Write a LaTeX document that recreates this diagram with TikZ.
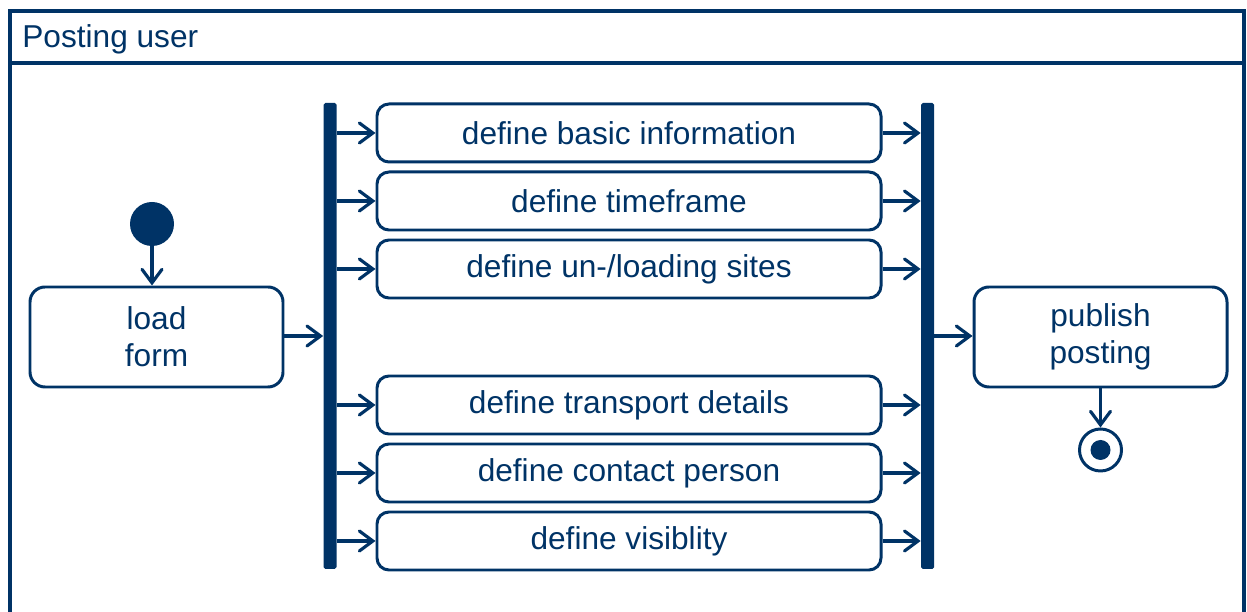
\documentclass[tikz,border=0pt]{standalone}
\usepackage{fontspec}
\setmainfont{Liberation Sans}
\usetikzlibrary{arrows.meta,positioning,calc}
\definecolor{umlblue}{RGB}{0,51,102}
\tikzstyle{action} = [draw=umlblue, line width=1.7pt, rounded corners=0.24cm, minimum width=10.08cm, minimum height=1.16cm, text=umlblue, font=\fontsize{18}{21}\selectfont]
\tikzstyle{bigaction} = [action, rounded corners=0.3cm, minimum width=5.06cm, minimum height=2cm, align=center]
\tikzstyle{syncbar} = [fill=umlblue, rounded corners=1pt, minimum width=0.26cm, minimum height=9.32cm, inner sep=0pt]
\tikzstyle{arrow} = [line width=1.8pt, draw=umlblue, -{Straight Barb[length=0.27cm, width=0.4cm, line cap=round]}]

\begin{document}
\begin{tikzpicture}
\useasboundingbox (0,0) rectangle (24.94,12.24);
% swimlane frame
\draw [umlblue, line width=2.2pt] (0.2,-0.4) -- (0.2,12.02) -- (24.88,12.02) -- (24.88,-0.4);
\draw [umlblue, line width=2.2pt] (0.2,10.98) -- (24.88,10.98);
\node (lane) [anchor=base west, inner sep=0pt, text=umlblue, font=\fontsize{18}{21}\selectfont] at (0.44,11.28) {Posting user};
% start and load
\node (start) [circle, fill=umlblue, minimum size=0.88cm, inner sep=0pt] at (3.04,7.76) {};
\node (load) [bigaction] at (3.13,5.50) {load\\form};
% fork / join
\node (fork) [syncbar] at (6.6,5.52) {};
\node (join) [syncbar] at (18.55,5.52) {};
% parallel actions
\node (a1) [action] at (12.58,9.58) {define basic information};
\node (a2) [action] at (12.58,8.22) {define timeframe};
\node (a3) [action] at (12.58,6.86) {define un-/loading sites};
\node (a4) [action] at (12.58,4.14) {define transport details};
\node (a5) [action] at (12.58,2.78) {define contact person};
\node (a6) [action] at (12.58,1.42) {define visiblity};
% publish and end
\node (publish) [bigaction] at (22.01,5.50) {publish\\posting};
\node (final) [circle, draw=umlblue, line width=1.7pt, minimum size=0.84cm, inner sep=0pt] at (22.01,3.24) {};
\fill [umlblue] (final.center) circle (0.2);
% flows
\draw [arrow] (start) -- (start |- load.north);
\draw [arrow] (load.east |- fork) -- (fork);
\draw [arrow] (fork.east |- a1) -- (a1);
\draw [arrow] (fork.east |- a2) -- (a2);
\draw [arrow] (fork.east |- a3) -- (a3);
\draw [arrow] (fork.east |- a4) -- (a4);
\draw [arrow] (fork.east |- a5) -- (a5);
\draw [arrow] (fork.east |- a6) -- (a6);
\draw [arrow] (a1) -- (join.west |- a1);
\draw [arrow] (a2) -- (join.west |- a2);
\draw [arrow] (a3) -- (join.west |- a3);
\draw [arrow] (a4) -- (join.west |- a4);
\draw [arrow] (a5) -- (join.west |- a5);
\draw [arrow] (a6) -- (join.west |- a6);
\draw [arrow] (join) -- (publish.west |- join);
\draw [arrow] (publish) -- (final);
\end{tikzpicture}
\end{document}
